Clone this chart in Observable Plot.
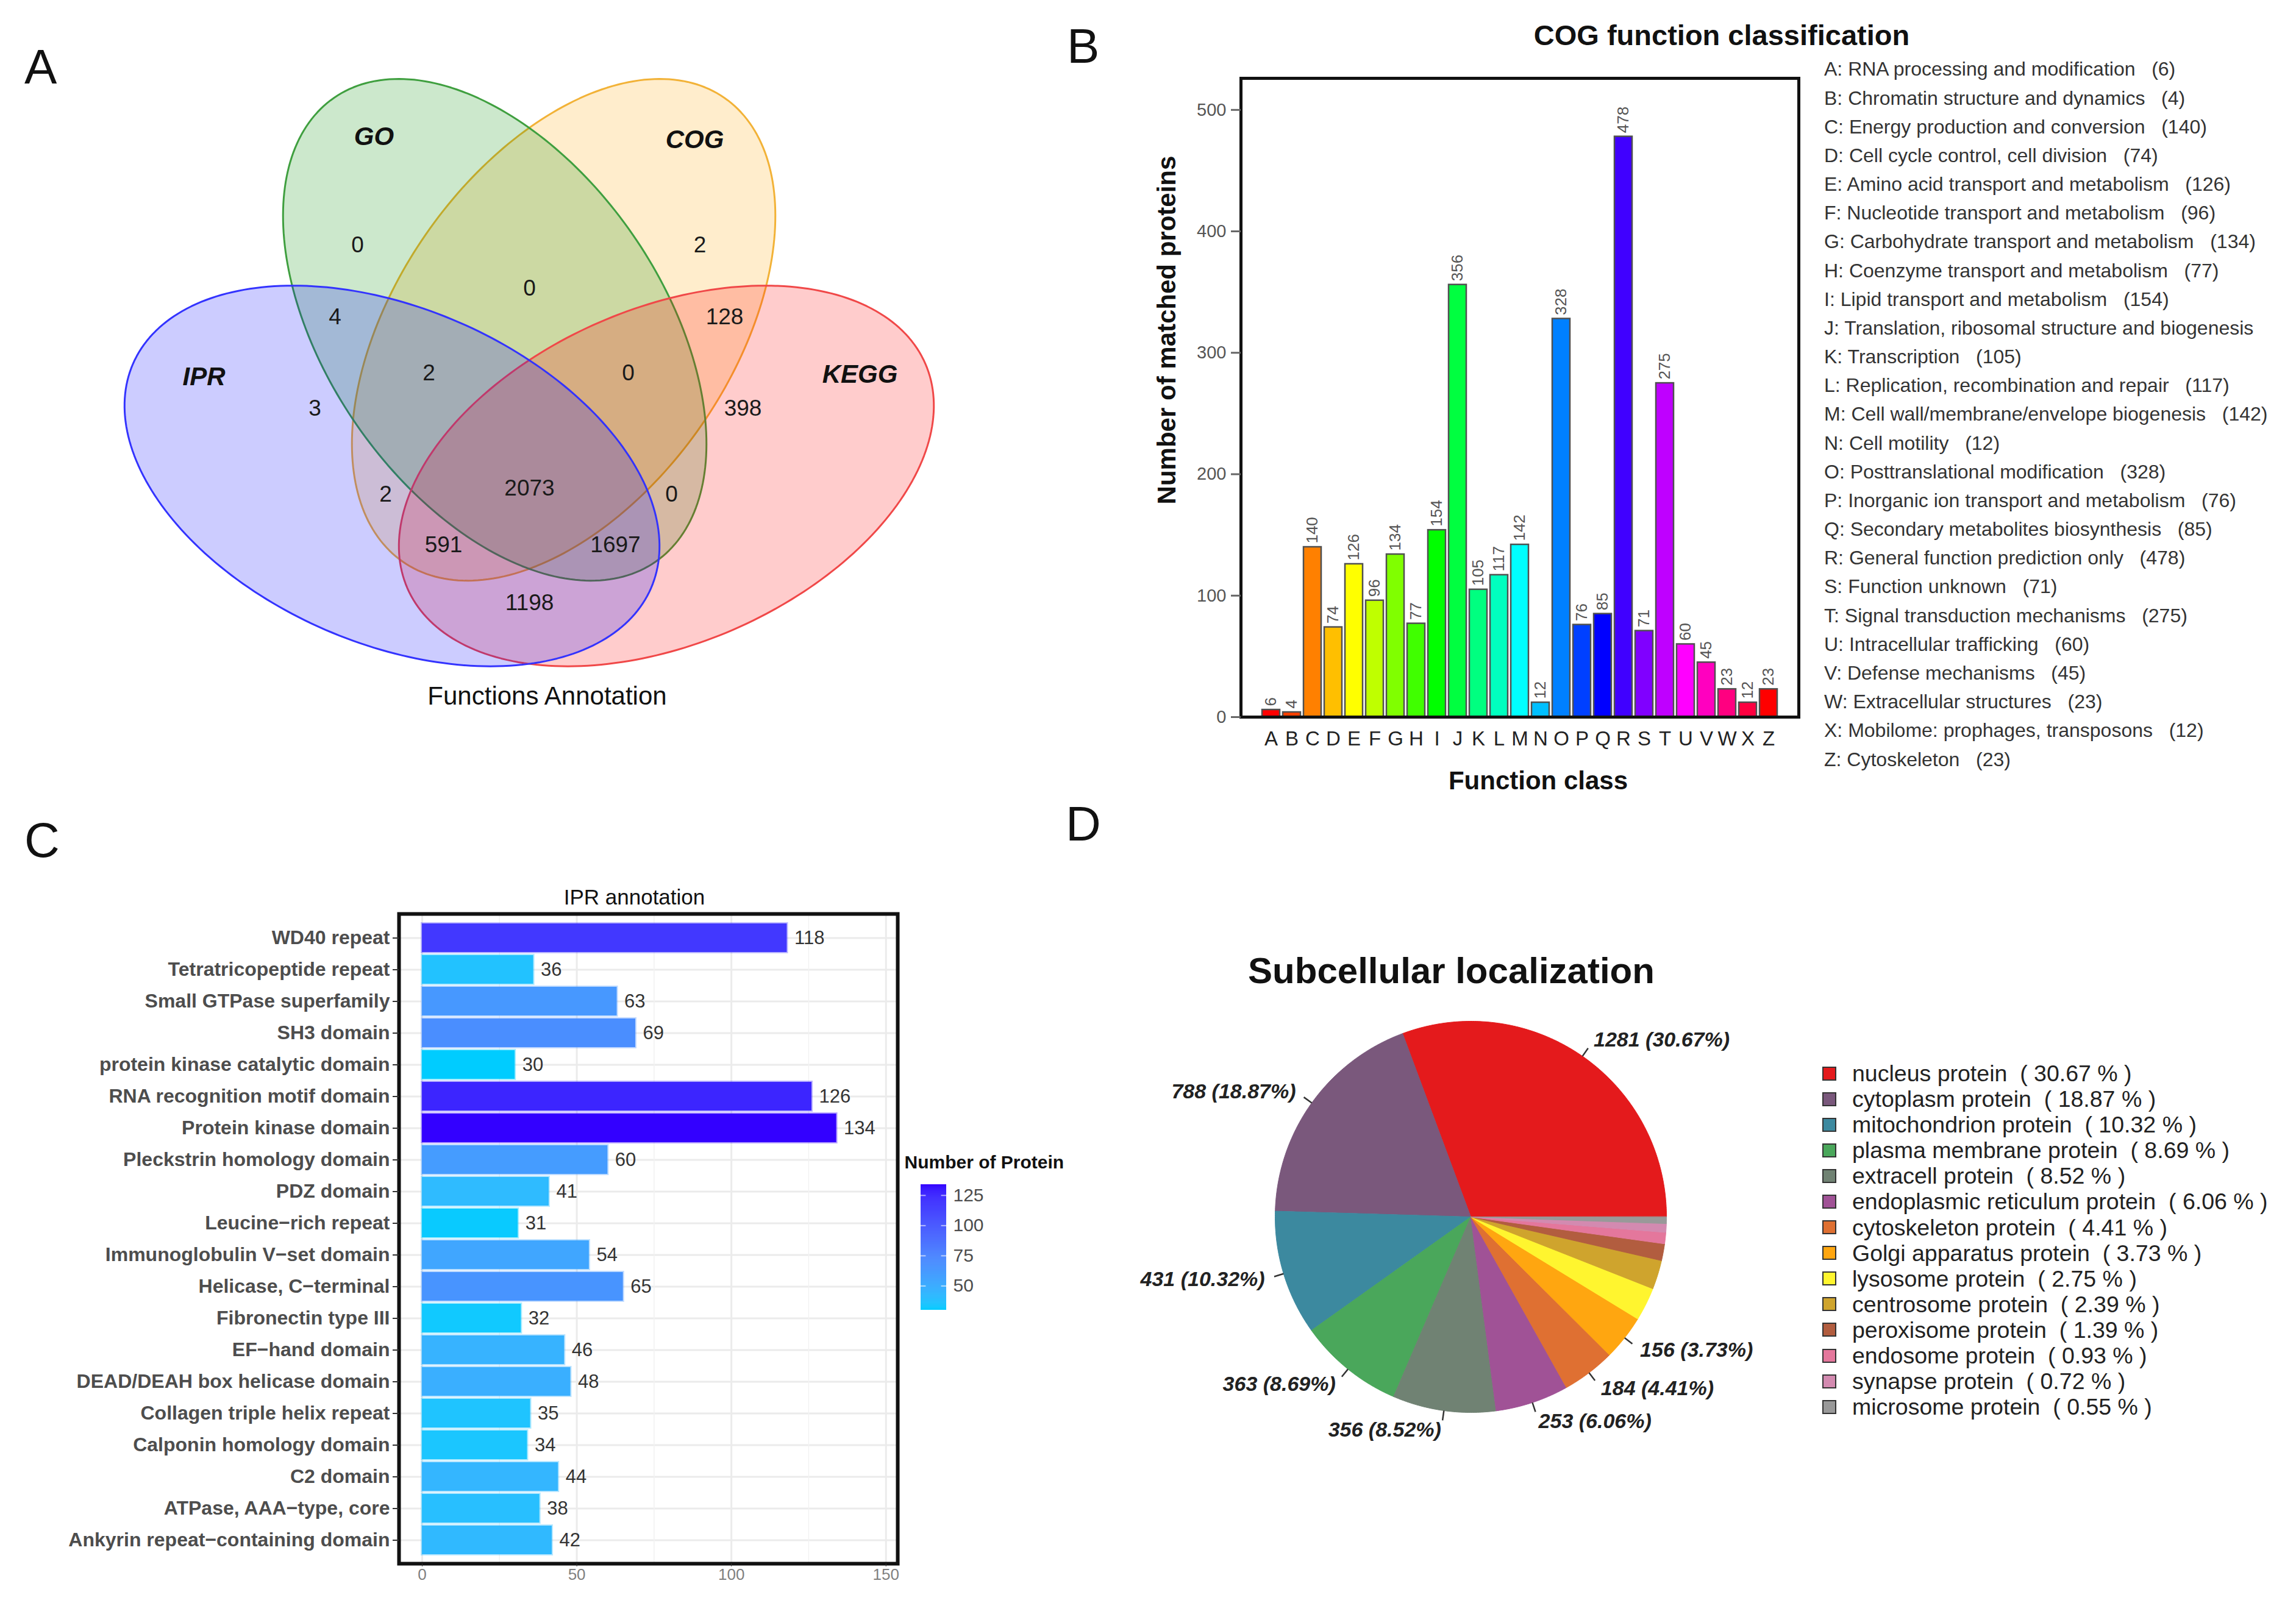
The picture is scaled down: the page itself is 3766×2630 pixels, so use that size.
<!DOCTYPE html>
<html>
<head>
<meta charset="utf-8">
<script src="https://cdn.jsdelivr.net/npm/d3@7"></script>
<script src="https://cdn.jsdelivr.net/npm/@observablehq/plot@0.6"></script>
<style>
  html, body { margin: 0; padding: 0; background: #fff; }
  #page { position: relative; width: 3766px; height: 2630px; overflow: hidden; background: #fff;
          font-family: "Liberation Sans", Arial, Helvetica, sans-serif; }
  #page svg { overflow: visible; }
  .letter { position: absolute; font-size: 80px; line-height: 80px; color: #111; }
</style>
</head>
<body>
<div id="page"></div>
<script>
// ================= DATA =================
// Panel A: Venn
const vennSetNames = ["GO", "COG", "IPR", "KEGG"];
const vennRegionNames = ["GO", "COG", "GO∩COG", "IPR∩GO", "COG∩KEGG", "IPR∩GO∩COG", "GO∩COG∩KEGG",
  "IPR", "KEGG", "IPR∩COG", "IPR∩GO∩COG∩KEGG", "GO∩KEGG", "IPR∩COG∩KEGG", "IPR∩GO∩KEGG", "IPR∩KEGG"];
const vennRegionCounts = [0, 2, 0, 4, 128, 2, 0, 3, 398, 2, 2073, 0, 591, 1697, 1198];
const vennTitle = "Functions Annotation";

// Panel B: COG
const cogCodes = ["A","B","C","D","E","F","G","H","I","J","K","L","M","N","O","P","Q","R","S","T","U","V","W","X","Z"];
const cogCounts = [6, 4, 140, 74, 126, 96, 134, 77, 154, 356, 105, 117, 142, 12, 328, 76, 85, 478, 71, 275, 60, 45, 23, 12, 23];
const cogNames = [
  "RNA processing and modification", "Chromatin structure and dynamics", "Energy production and conversion",
  "Cell cycle control, cell division", "Amino acid transport and metabolism", "Nucleotide transport and metabolism",
  "Carbohydrate transport and metabolism", "Coenzyme transport and metabolism", "Lipid transport and metabolism",
  "Translation, ribosomal structure and biogenesis", "Transcription", "Replication, recombination and repair",
  "Cell wall/membrane/envelope biogenesis", "Cell motility", "Posttranslational modification",
  "Inorganic ion transport and metabolism", "Secondary metabolites biosynthesis", "General function prediction only",
  "Function unknown", "Signal transduction mechanisms", "Intracellular trafficking", "Defense mechanisms",
  "Extracellular structures", "Mobilome: prophages, transposons", "Cytoskeleton"];

// Panel C: IPR
const iprNames = ["WD40 repeat", "Tetratricopeptide repeat", "Small GTPase superfamily", "SH3 domain",
  "protein kinase catalytic domain", "RNA recognition motif domain", "Protein kinase domain",
  "Pleckstrin homology domain", "PDZ domain", "Leucine\u2212rich repeat", "Immunoglobulin V\u2212set domain",
  "Helicase, C\u2212terminal", "Fibronectin type III", "EF\u2212hand domain", "DEAD/DEAH box helicase domain",
  "Collagen triple helix repeat", "Calponin homology domain", "C2 domain", "ATPase, AAA\u2212type, core",
  "Ankyrin repeat\u2212containing domain"];
const iprCounts = [118, 36, 63, 69, 30, 126, 134, 60, 41, 31, 54, 65, 32, 46, 48, 35, 34, 44, 38, 42];

// Panel D: Subcellular localization
const subNames = ["nucleus protein", "cytoplasm protein", "mitochondrion protein", "plasma membrane protein",
  "extracell protein", "endoplasmic reticulum protein", "cytoskeleton protein", "Golgi apparatus protein",
  "lysosome protein", "centrosome protein", "peroxisome protein", "endosome protein", "synapse protein",
  "microsome protein"];
const subCounts = [1281, 788, 431, 363, 356, 253, 184, 156, 115, 100, 58, 39, 30, 23];

// ================= LAYOUT / STYLE =================
const FONT = '"Liberation Sans", Arial, Helvetica, sans-serif';
const page = document.getElementById("page");
function place(el, left, top) {
  el.style.position = "absolute";
  el.style.left = left + "px";
  el.style.top = top + "px";
  page.appendChild(el);
  return el;
}
function letter(t, left, baseline) {
  const d = document.createElement("div");
  d.className = "letter";
  d.textContent = t;
  place(d, left, baseline - 68);
}

// ---------- Panel A: Venn ----------
const vennEllipse = {
  IPR:  {cx: 642.5,  cy: 780.4, angle: 23.4,  fill: "#0000ff", stroke: "#3333ff"},
  GO:   {cx: 811,    cy: 540.6, angle: 55.3,  fill: "#008b00", stroke: "#3f9f3f"},
  COG:  {cx: 924,    cy: 540.6, angle: -55.3, fill: "#ffa500", stroke: "#f2b237"},
  KEGG: {cx: 1092.5, cy: 780.4, angle: -23.4, fill: "#ff0000", stroke: "#f04848"}
};
const ELL_A = 463, ELL_B = 275;
const vennSetLabelPos = {GO: [613, 224], COG: [1139, 229.5], IPR: [334, 618], KEGG: [1410, 614]};
const vennRegionPos = [[586, 402], [1147.5, 402], [868, 473], [549, 520], [1188, 520], [703, 612], [1030, 612],
  [516, 669.5], [1218, 669.5], [632, 811], [868, 801], [1101, 811], [727, 894], [1009, 894], [868, 989]];

function ellipsePts(set) {
  const e = vennEllipse[set];
  const t = e.angle * Math.PI / 180;
  return d3.range(0, 360, 1.5).map(k => {
    const u = k * Math.PI / 180;
    const ex = ELL_A * Math.cos(u), ey = ELL_B * Math.sin(u);
    return {set, x: e.cx + ex * Math.cos(t) - ey * Math.sin(t), y: e.cy + ex * Math.sin(t) + ey * Math.cos(t)};
  });
}
const drawOrder = ["COG", "GO", "KEGG", "IPR"];
const plotA = Plot.plot({
  width: 1750, height: 1250, margin: 0,
  x: {type: "identity", axis: null}, y: {type: "identity", axis: null},
  style: {fontFamily: FONT, background: "transparent"},
  marks: [
    ...drawOrder.map(s => Plot.line(ellipsePts(s), {
      x: "x", y: "y", curve: "linear-closed",
      fill: vennEllipse[s].fill, fillOpacity: 0.2,
      stroke: vennEllipse[s].stroke, strokeWidth: 3
    })),
    Plot.text(vennSetNames, {
      x: d => vennSetLabelPos[d][0], y: d => vennSetLabelPos[d][1], text: d => d,
      fontSize: 42, fontWeight: "bold", fontStyle: "italic", fill: "#111"
    }),
    Plot.text(vennRegionCounts, {
      x: (d, i) => vennRegionPos[i][0], y: (d, i) => vennRegionPos[i][1], text: d => String(d),
      fontSize: 37, fill: "#1a1a1a"
    }),
    Plot.text([vennTitle], {x: 897, y: 1142, text: d => d, fontSize: 42, fill: "#111"})
  ]
});
place(plotA, 0, 0);
letter("A", 40, 138);

// ---------- Panel B: COG bars ----------
const cog = cogCodes.map((code, i) => ({code, count: cogCounts[i]}));
const cogColors = cogCodes.map((_, i) => d3.hsl(i * 15, 1, 0.5).formatHex());
const plotB = Plot.plot({
  width: 1916, height: 1320,
  marginLeft: 185, marginRight: 816, marginTop: 128, marginBottom: 144,
  style: {fontFamily: FONT, color: "#555", background: "transparent"},
  x: {type: "band", domain: cogCodes, paddingInner: 0.14, paddingOuter: 0.947, label: null},
  y: {domain: [0, 526], label: null},
  color: {domain: cogCodes, range: cogColors},
  marks: [
    Plot.barY(cog, {x: "code", y: "count", fill: "code", stroke: "#505050", strokeWidth: 2.5}),
    Plot.text(cog, {x: "code", y: "count", text: d => String(d.count), rotate: -90,
      textAnchor: "start", lineAnchor: "middle", dy: -6, fontSize: 26, fill: "#555"}),
    Plot.frame({stroke: "#111", strokeWidth: 5}),
    Plot.axisY({ticks: [0, 100, 200, 300, 400, 500], tickSize: 16, tickPadding: 8, fontSize: 29,
      stroke: "#666", strokeWidth: 3, fill: "#555", label: null}),
    Plot.axisX({tickSize: 0, tickPadding: 23, fontSize: 33, fill: "#222", label: null}),
    Plot.text(["Function class"], {frameAnchor: "bottom", dx: 30, dy: 105, text: d => d,
      textAnchor: "middle", lineAnchor: "middle", fontSize: 42, fontWeight: "bold", fill: "#111"}),
    Plot.text(["Number of matched proteins"], {frameAnchor: "left", rotate: -90, dx: -121, dy: -111, text: d => d,
      textAnchor: "middle", lineAnchor: "middle", fontSize: 42, fontWeight: "bold", fill: "#111"}),
    Plot.text(["COG function classification"], {frameAnchor: "top", dx: 331, dy: -70, text: d => d,
      textAnchor: "middle", lineAnchor: "middle", fontSize: 47, fontWeight: "bold", fill: "#111"})
  ]
});
place(plotB, 1850, 0);
letter("B", 1750, 104);

// COG legend (text list)
const legB = document.createElement("div");
legB.style.cssText = `font: 32px ${FONT}; color: #333; white-space: pre; line-height: 47.17px;`;
cogCodes.forEach((c, i) => {
  const row = document.createElement("div");
  row.textContent = c === "J" ? `${c}: ${cogNames[i]}` : `${c}: ${cogNames[i]}   (${cogCounts[i]})`;
  legB.appendChild(row);
});
place(legB, 2992, 114 - 23.6);

// ---------- Panel C: IPR bars ----------
const ipr = iprNames.map((name, i) => ({name, count: iprCounts[i]}));
const colorC = {type: "linear", domain: [30, 134], range: ["#00ccff", "#3300ff"], interpolate: "lab"};
const plotC = Plot.plot({
  width: 1480, height: 1210,
  marginLeft: 654, marginRight: 8, marginTop: 79, marginBottom: 65,
  style: {fontFamily: FONT, background: "transparent"},
  x: {domain: [-7.5, 153.8], label: null},
  y: {type: "band", domain: iprNames, paddingInner: 0.1, paddingOuter: 0.15, label: null},
  color: colorC,
  marks: [
    Plot.ruleY(iprNames, {y: d => d, stroke: "#ebebeb", strokeWidth: 3}),
    Plot.ruleX([25, 75, 125], {stroke: "#f2f2f2", strokeWidth: 1.5}),
    Plot.ruleX([0, 50, 100, 150], {stroke: "#ebebeb", strokeWidth: 3}),
    Plot.barX(ipr, {x: "count", y: "name", fill: "count", stroke: "count", strokeOpacity: 0.35, strokeWidth: 4}),
    Plot.text(ipr, {x: "count", y: "name", text: d => String(d.count), dx: 12, textAnchor: "start",
      fontSize: 31, fill: "#333"}),
    Plot.frame({stroke: "#111", strokeWidth: 6}),
    Plot.axisY({tickSize: 10, tickPadding: 5, fontSize: 32, fontWeight: "bold", fill: "#4d4d4d",
      stroke: "#333", strokeWidth: 2, label: null}),
    Plot.axisX({ticks: [0, 50, 100, 150], tickSize: 5, tickPadding: 3, fontSize: 26, fill: "#7f7f7f",
      stroke: "#333", label: null}),
    Plot.text(["IPR annotation"], {frameAnchor: "top", dx: -23, dy: -27, text: d => d,
      textAnchor: "middle", lineAnchor: "middle", fontSize: 35, fill: "#111"})
  ]
});
place(plotC, 0, 1420);
letter("C", 40, 1407);

// colour bar legend for panel C
const cbTicks = [50, 75, 100, 125];
const plotCB = Plot.plot({
  width: 300, height: 300, margin: 0,
  style: {fontFamily: FONT, background: "transparent"},
  x: {domain: [0, 1], range: [40, 82], axis: null},
  y: {domain: [30, 134], range: [279, 73], axis: null},
  color: colorC,
  marks: [
    Plot.rect(d3.range(30, 134, 1), {x1: 0, x2: 1, y1: d => d, y2: d => Math.min(134, d + 1.3), fill: d => d + 0.5}),
    Plot.ruleY(cbTicks, {x1: 0, x2: 0.2, stroke: "white", strokeOpacity: 0.6, strokeWidth: 2}),
    Plot.ruleY(cbTicks, {x1: 0.8, x2: 1, stroke: "white", strokeOpacity: 0.6, strokeWidth: 2}),
    Plot.text(cbTicks, {x: 1, y: d => d, text: d => String(d), dx: 11, textAnchor: "start",
      fontSize: 30, fill: "#4d4d4d"}),
    Plot.text(["Number of Protein"], {x: 0, y: 134, dx: -27, dy: -36, text: d => d, textAnchor: "start",
      fontSize: 30, fontWeight: "bold", fill: "#111"})
  ]
});
place(plotCB, 1470, 1870);

// ---------- Panel D: pie ----------
const total = d3.sum(subCounts);
const subColors = d3.quantize(d3.piecewise(d3.interpolateRgb, d3.schemeSet1), subNames.length);
const PCX = 612, PCY = 646, PR = 321;
let acc = 0;
const slices = subNames.map((name, i) => {
  const f0 = acc / total; acc += subCounts[i]; const f1 = acc / total;
  return {name, count: subCounts[i], f0, f1, pct: subCounts[i] / total * 100, mid: Math.PI * (f0 + f1)};
});
const slicePts = slices.flatMap(s => {
  const a0 = 2 * Math.PI * s.f0, a1 = 2 * Math.PI * s.f1;
  const n = Math.max(2, Math.ceil((a1 - a0) / (Math.PI / 360)));
  const pts = [{name: s.name, x: PCX, y: PCY}];
  for (let k = 0; k <= n; k++) {
    const a = a0 + (a1 - a0) * k / n;
    pts.push({name: s.name, x: PCX + PR * Math.cos(a), y: PCY - PR * Math.sin(a)});
  }
  return pts;
});
const labeled = slices.filter(s => s.pct > 3);
const pieLabel = s => `${s.count} (${s.pct.toFixed(2)}%)`;
const lx = (s, k) => PCX + k * PR * Math.cos(s.mid);
const ly = (s, k) => PCY - k * PR * Math.sin(s.mid);
const plotD = Plot.plot({
  width: 1200, height: 1280, margin: 0,
  x: {type: "identity", axis: null}, y: {type: "identity", axis: null},
  color: {domain: subNames, range: subColors},
  style: {fontFamily: FONT, background: "transparent"},
  marks: [
    Plot.line(slicePts, {x: "x", y: "y", z: "name", fill: "name", stroke: "name", strokeWidth: 1, curve: "linear-closed"}),
    Plot.link(labeled, {x1: s => lx(s, 1), y1: s => ly(s, 1), x2: s => lx(s, 1.05), y2: s => ly(s, 1.05),
      stroke: "#333", strokeWidth: 2.5}),
    Plot.text(labeled.filter(s => Math.cos(s.mid) >= 0), {x: s => lx(s, 1.1), y: s => ly(s, 1.1), text: pieLabel,
      textAnchor: "start", fontSize: 34, fontWeight: "bold", fontStyle: "italic", fill: "#222"}),
    Plot.text(labeled.filter(s => Math.cos(s.mid) < 0), {x: s => lx(s, 1.1), y: s => ly(s, 1.1), text: pieLabel,
      textAnchor: "end", fontSize: 34, fontWeight: "bold", fontStyle: "italic", fill: "#222"}),
    Plot.text(["Subcellular localization"], {x: 580, y: 243, text: d => d, fontSize: 60, fontWeight: "bold", fill: "#111"})
  ]
});
place(plotD, 1800, 1350);
letter("D", 1748, 1380);

// pie legend
const legD = document.createElement("div");
legD.style.cssText = `font: 37.5px ${FONT}; color: #222; white-space: pre; line-height: 42.1px;`;
slices.forEach((s, i) => {
  const row = document.createElement("div");
  row.style.cssText = "display:flex; align-items:center; height:42.1px;";
  const sw = document.createElement("span");
  sw.style.cssText = `display:inline-block; width:19px; height:19px; border:2.5px solid #333; background:${subColors[i]}; margin-right:26px;`;
  const tx = document.createElement("span");
  tx.textContent = `${s.name}  ( ${s.pct.toFixed(2)} % )`;
  row.appendChild(sw); row.appendChild(tx);
  legD.appendChild(row);
});
place(legD, 2989, 1761 - 21);
</script>
</body>
</html>
